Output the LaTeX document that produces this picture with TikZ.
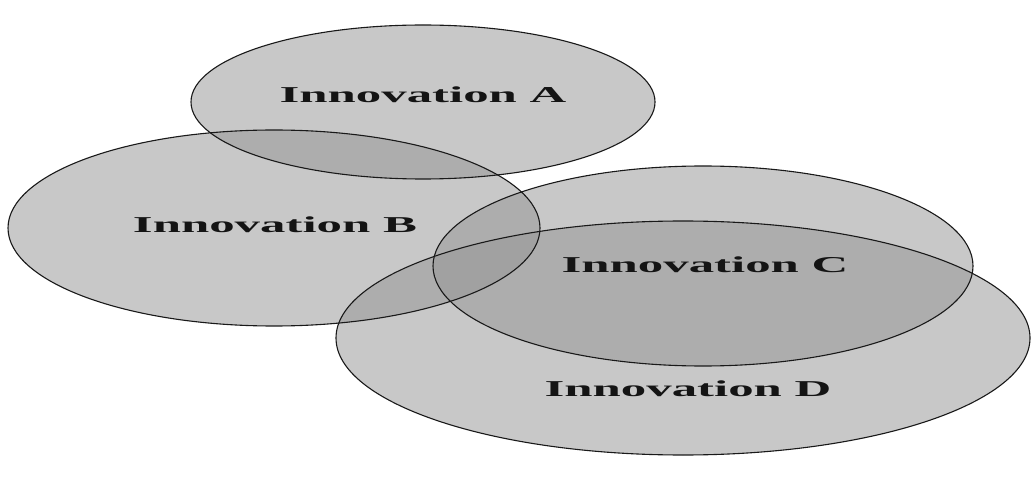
\documentclass[tikz,border=0pt]{standalone}
\usepackage{fontspec}
\setmainfont{Liberation Serif}
\begin{document}
\begin{tikzpicture}[x=1pt,y=-1pt,
  vennfill/.style={fill=black!41,fill opacity=0.52},
  vennline/.style={draw=black!90,line width=1.1pt},
  lbl/.style={font=\fontsize{22.7}{27}\selectfont\bfseries,text=black!92,inner sep=0pt,xscale=2.24,transform shape}]
\useasboundingbox (0,0) rectangle (1031,481);
\fill[white] (0,0) rectangle (1031,481);
\fill[vennfill] (423,102) ellipse [x radius=232, y radius=77];
\fill[vennfill] (274,228) ellipse [x radius=266, y radius=98];
\fill[vennfill] (703,266) ellipse [x radius=270, y radius=100];
\fill[vennfill] (683,338) ellipse [x radius=347, y radius=117];
\draw[vennline] (423,102) ellipse [x radius=232, y radius=77];
\draw[vennline] (274,228) ellipse [x radius=266, y radius=98];
\draw[vennline] (703,266) ellipse [x radius=270, y radius=100];
\draw[vennline] (683,338) ellipse [x radius=347, y radius=117];
\node[lbl] (a) at (423,95) {Innovation A};
\node[lbl] (b) at (275,225) {Innovation B};
\node[lbl] (c) at (705,265) {Innovation C};
\node[lbl] (d) at (688,389) {Innovation D};
\end{tikzpicture}
\end{document}
